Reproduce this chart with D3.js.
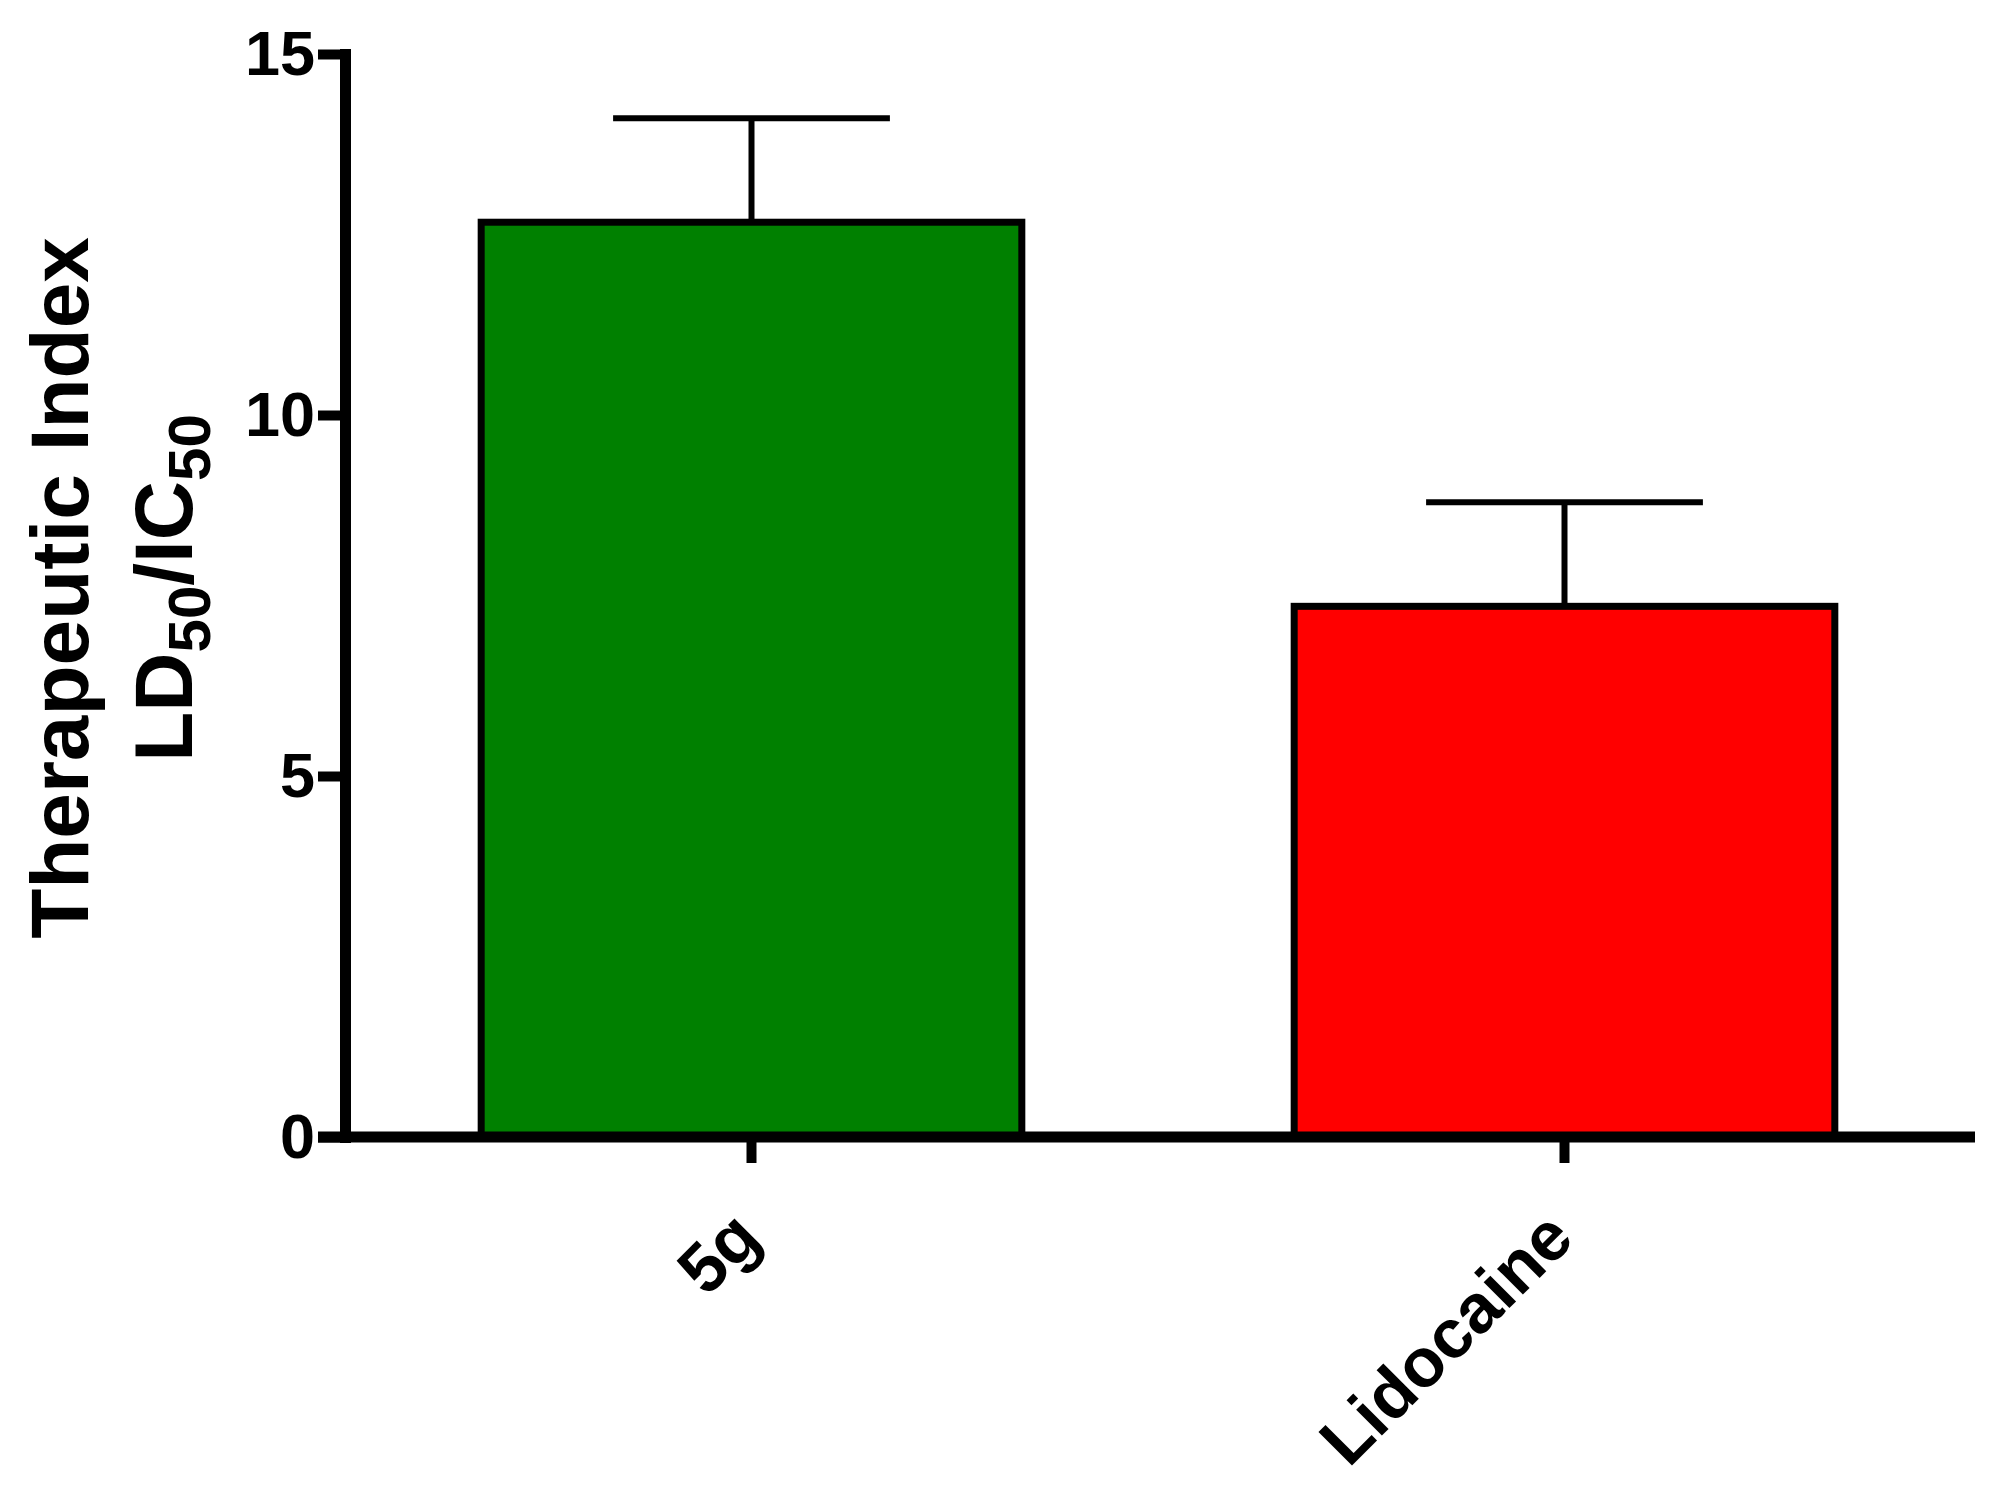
<!DOCTYPE html>
<html>
<head>
<meta charset="utf-8">
<script src="https://cdn.jsdelivr.net/npm/d3@7"></script>
<style>
  body { margin: 0; background: #fff; }
  svg { display: block; font-family: "Liberation Sans", Arial, sans-serif; font-weight: bold; }
</style>
</head>
<body>
<svg id="chart" width="2003" height="1488"></svg>
<script>
// data
const categories = ["5g", "Lidocaine"];
const means = [12.67, 7.35];
const errors = [1.44, 1.44];
const barColors = ["#008000", "#ff0000"];
const yTicks = [0, 5, 10, 15];

const plotLeft = 345, plotTop = 54, plotBottom = 1137, plotRight = 1975;
const svg = d3.select("#chart");

const x = d3.scaleBand()
  .domain(categories)
  .range([plotLeft, 1971])
  .paddingInner(0.335)
  .paddingOuter(0.1675);

const y = d3.scaleLinear().domain([0, 15]).range([plotBottom, plotTop]);

// error bars (upper only)
const bw = x.bandwidth();
const err = svg.append("g").attr("stroke", "#000").attr("stroke-width", 6);
categories.forEach(function (c, i) {
  const cx = x(c) + bw / 2;
  err.append("line")
    .attr("x1", cx).attr("x2", cx)
    .attr("y1", y(means[i])).attr("y2", y(means[i] + errors[i]));
  err.append("line")
    .attr("x1", cx - bw * 0.256).attr("x2", cx + bw * 0.256)
    .attr("y1", y(means[i] + errors[i])).attr("y2", y(means[i] + errors[i]));
});

// bars
svg.append("g").selectAll("rect")
  .data(categories)
  .enter().append("rect")
  .attr("x", d => x(d))
  .attr("y", (d, i) => y(means[i]))
  .attr("width", bw)
  .attr("height", (d, i) => y(0) - y(means[i]))
  .attr("fill", (d, i) => barColors[i])
  .attr("stroke", "#000")
  .attr("stroke-width", 7);

// y axis
const yAxis = svg.append("g")
  .attr("transform", "translate(" + plotLeft + ",0)")
  .call(d3.axisLeft(y).tickValues(yTicks).tickSize(27).tickSizeOuter(0).tickPadding(3));
yAxis.select(".domain").attr("stroke", "#000").attr("stroke-width", 11).attr("stroke-linecap", "square");
yAxis.selectAll(".tick line").attr("stroke", "#000").attr("stroke-width", 10);
yAxis.selectAll(".tick text")
  .attr("fill", "#000")
  .style("font-size", "63px")
  .style("font-family", "'Liberation Sans', Arial, sans-serif")
  .style("font-weight", "bold");

// x axis
const xAxis = svg.append("g")
  .attr("transform", "translate(0," + plotBottom + ")")
  .call(d3.axisBottom(x).tickSize(26).tickSizeOuter(0));
xAxis.select(".domain").remove();
xAxis.append("line")
  .attr("x1", plotLeft - 27).attr("x2", plotRight)
  .attr("y1", 0).attr("y2", 0)
  .attr("stroke", "#000").attr("stroke-width", 11);
xAxis.selectAll(".tick line").attr("stroke", "#000").attr("stroke-width", 10);
xAxis.selectAll(".tick text")
  .attr("fill", "#000")
  .attr("text-anchor", "end")
  .attr("x", 0).attr("y", 0).attr("dy", null)
  .attr("transform", "translate(12,104) rotate(-45)")
  .style("font-size", "69px")
  .style("font-family", "'Liberation Sans', Arial, sans-serif")
  .style("font-weight", "bold");

// y axis title, two lines
const midY = 588;
svg.append("text")
  .attr("transform", "translate(88," + midY + ") rotate(-90)")
  .attr("text-anchor", "middle")
  .style("font-size", "82px")
  .text("Therapeutic Index");

const t2 = svg.append("text")
  .attr("transform", "translate(192," + midY + ") rotate(-90)")
  .attr("text-anchor", "middle")
  .style("font-size", "82px");
t2.append("tspan").text("LD");
t2.append("tspan").attr("dy", 18).style("font-size", "60px").text("50");
t2.append("tspan").attr("dy", -18).text("/IC");
t2.append("tspan").attr("dy", 18).style("font-size", "60px").text("50");
</script>
</body>
</html>
